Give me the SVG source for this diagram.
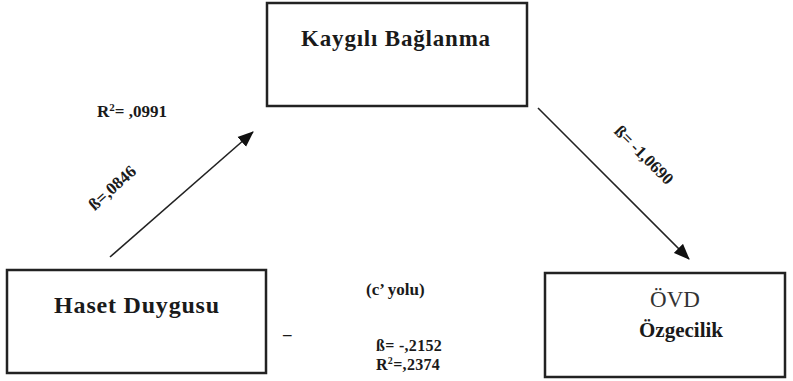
<svg xmlns="http://www.w3.org/2000/svg" width="793" height="381" viewBox="0 0 793 381">
<defs>
<marker id="ah" markerWidth="16" markerHeight="14" refX="15" refY="6.5" orient="auto" markerUnits="userSpaceOnUse" viewBox="0 0 16 13">
<path d="M0,0 L16,6.5 L0,13 z" fill="#111"/>
</marker>
</defs>
<style>
.box{fill:#fff;stroke:#222;stroke-width:2.5}
.lbl{font-family:"Liberation Serif","Times New Roman",serif;font-weight:bold;fill:#1a1a1a;text-anchor:middle}
.reg{font-family:"Liberation Serif","Times New Roman",serif;fill:#333;text-anchor:middle}
.st{font-family:"Liberation Serif","Times New Roman",serif;font-size:17px;font-weight:bold;fill:#1a1a1a}
.sm{font-size:16px;letter-spacing:0.3px}
.edge{stroke:#222;stroke-width:1.6;fill:none}
</style>
<rect width="793" height="381" fill="#fff"/>
<g id="kaygili">
<rect class="box" x="267" y="3" width="260" height="103"/>
<text class="lbl" x="396" y="46" font-size="23" letter-spacing="0.8">Kaygılı Bağlanma</text>
</g>
<g id="haset">
<rect class="box" x="7" y="270" width="259" height="103"/>
<text class="lbl" x="137" y="313" font-size="24" letter-spacing="0.8">Haset Duygusu</text>
</g>
<g id="ozgecilik">
<rect class="box" x="545" y="273" width="240" height="104"/>
<text class="reg" x="675" y="307" font-size="23">ÖVD</text>
<text class="lbl" x="681" y="337" font-size="21">Özgecilik</text>
</g>
<g id="connectors">
<line class="edge" x1="110" y1="257" x2="253" y2="132" marker-end="url(#ah)"/>
<line class="edge" x1="538" y1="108" x2="689" y2="259" marker-end="url(#ah)"/>
</g>
<g id="labels">
<text class="st" x="97" y="117">R<tspan font-size="11" dy="-6">2</tspan><tspan dy="6">= ,0991</tspan></text>
<text class="st" text-anchor="middle" transform="translate(116,192) rotate(-42)">ß=,0846</text>
<text class="st" text-anchor="middle" transform="translate(640,159) rotate(45)">ß= -1,0690</text>
<text class="st" x="366" y="295">(c’ yolu)</text>
<text class="st sm" x="376" y="351">ß= -,2152</text>
<text class="st sm" x="376" y="370">R<tspan font-size="10" dy="-6">2</tspan><tspan dy="6">=,2374</tspan></text>
<text class="st" x="283" y="340" font-weight="normal" font-size="17">–</text>
</g>
</svg>
